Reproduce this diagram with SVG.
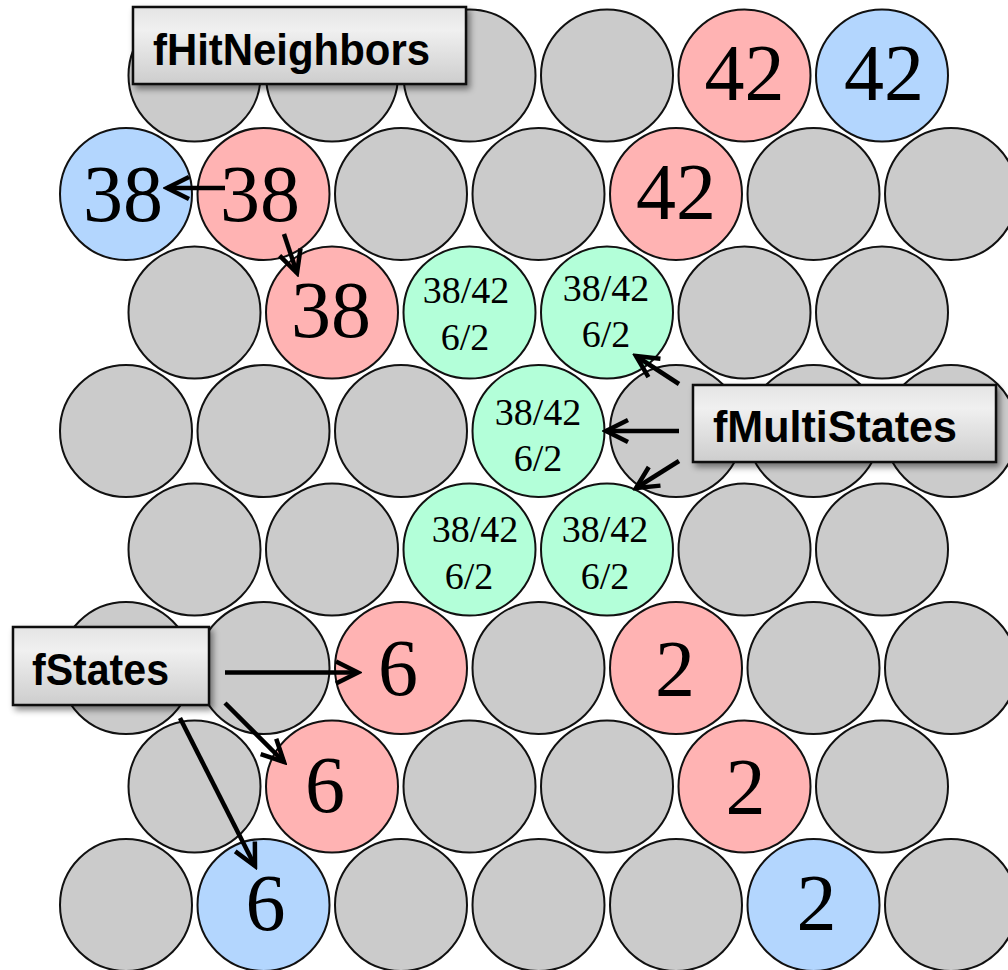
<svg xmlns="http://www.w3.org/2000/svg" width="1008" height="970" viewBox="0 0 1008 970">
  <style>
    .cell { stroke: #111; stroke-width: 2; }
    .g { fill: #cbcbcb; }
    .p { fill: #ffb3b3; }
    .b { fill: #b3d6fe; }
    .m { fill: #b3ffd9; }
    .big { font-family: "Liberation Serif", serif; font-size: 80px; text-anchor: middle; fill: #000; }
    .small { font-family: "Liberation Serif", serif; font-size: 38px; text-anchor: middle; fill: #000; }
    .box { fill: url(#boxGrad); stroke: #111; stroke-width: 2.5; filter: url(#shadow); }
    .lbl { font-family: "Liberation Sans", Arial, sans-serif; font-weight: bold; font-size: 44px; fill: #000; }
    .arrow { fill: none; stroke: #000; stroke-width: 4.5; marker-end: url(#chev); }
  </style>
  <defs>
    <linearGradient id="boxGrad" x1="0" y1="0" x2="0" y2="1">
      <stop offset="0" stop-color="#e4e4e4"/>
      <stop offset="0.3" stop-color="#f0f0f0"/>
      <stop offset="1" stop-color="#cdcdcd"/>
    </linearGradient>
    <filter id="shadow" x="-10%" y="-20%" width="130%" height="150%">
      <feDropShadow dx="3" dy="4" stdDeviation="3" flood-color="#000" flood-opacity="0.45"/>
    </filter>
    <marker id="chev" markerUnits="userSpaceOnUse" viewBox="-28 -16 32 32" markerWidth="32" markerHeight="32" refX="0" refY="0" orient="auto">
      <path d="M-22,-11 L0,0 L-22,11" fill="none" stroke="#000" stroke-width="4.5"/>
    </marker>
  </defs>

  <!-- row 0 -->
  <g id="n0-0"><circle class="cell g" cx="194.5" cy="75.5" r="66"/></g>
  <g id="n0-1"><circle class="cell g" cx="332" cy="75.5" r="66"/></g>
  <g id="n0-2"><circle class="cell g" cx="469.5" cy="75.5" r="66"/></g>
  <g id="n0-3"><circle class="cell g" cx="607" cy="75.5" r="66"/></g>
  <g id="n0-4"><circle class="cell p" cx="744.5" cy="75.5" r="66"/><text class="big" x="744.5" y="100">42</text></g>
  <g id="n0-5"><circle class="cell b" cx="882" cy="75.5" r="66"/><text class="big" x="884" y="100">42</text></g>

  <!-- row 1 -->
  <g id="n1-0"><circle class="cell b" cx="126" cy="194" r="66"/><text class="big" x="123" y="221">38</text></g>
  <g id="n1-1"><circle class="cell p" cx="263.5" cy="194" r="66"/><text class="big" x="260" y="221">38</text></g>
  <g id="n1-2"><circle class="cell g" cx="401" cy="194" r="66"/></g>
  <g id="n1-3"><circle class="cell g" cx="538.5" cy="194" r="66"/></g>
  <g id="n1-4"><circle class="cell p" cx="676" cy="194" r="66"/><text class="big" x="676" y="219">42</text></g>
  <g id="n1-5"><circle class="cell g" cx="813.5" cy="194" r="66"/></g>
  <g id="n1-6"><circle class="cell g" cx="951" cy="194" r="66"/></g>

  <!-- row 2 -->
  <g id="n2-0"><circle class="cell g" cx="194.5" cy="312.5" r="66"/></g>
  <g id="n2-1"><circle class="cell p" cx="332" cy="312.5" r="66"/><text class="big" x="331" y="337">38</text></g>
  <g id="n2-2"><circle class="cell m" cx="469.5" cy="312.5" r="66"/><text class="small" x="466" y="303">38/42</text><text class="small" x="465" y="350">6/2</text></g>
  <g id="n2-3"><circle class="cell m" cx="607" cy="312.5" r="66"/><text class="small" x="606" y="301">38/42</text><text class="small" x="606" y="347">6/2</text></g>
  <g id="n2-4"><circle class="cell g" cx="744.5" cy="312.5" r="66"/></g>
  <g id="n2-5"><circle class="cell g" cx="882" cy="312.5" r="66"/></g>

  <!-- row 3 -->
  <g id="n3-0"><circle class="cell g" cx="126" cy="431" r="66"/></g>
  <g id="n3-1"><circle class="cell g" cx="263.5" cy="431" r="66"/></g>
  <g id="n3-2"><circle class="cell g" cx="401" cy="431" r="66"/></g>
  <g id="n3-3"><circle class="cell m" cx="538.5" cy="431" r="66"/><text class="small" x="538" y="425">38/42</text><text class="small" x="538" y="471">6/2</text></g>
  <g id="n3-4"><circle class="cell g" cx="676" cy="431" r="66"/></g>
  <g id="n3-5"><circle class="cell g" cx="813.5" cy="431" r="66"/></g>
  <g id="n3-6"><circle class="cell g" cx="951" cy="431" r="66"/></g>

  <!-- row 4 -->
  <g id="n4-0"><circle class="cell g" cx="194.5" cy="549.5" r="66"/></g>
  <g id="n4-1"><circle class="cell g" cx="332" cy="549.5" r="66"/></g>
  <g id="n4-2"><circle class="cell m" cx="469.5" cy="549.5" r="66"/><text class="small" x="475" y="542">38/42</text><text class="small" x="469" y="589">6/2</text></g>
  <g id="n4-3"><circle class="cell m" cx="607" cy="549.5" r="66"/><text class="small" x="605" y="542">38/42</text><text class="small" x="605" y="589">6/2</text></g>
  <g id="n4-4"><circle class="cell g" cx="744.5" cy="549.5" r="66"/></g>
  <g id="n4-5"><circle class="cell g" cx="882" cy="549.5" r="66"/></g>

  <!-- row 5 -->
  <g id="n5-0"><circle class="cell g" cx="126" cy="668" r="66"/></g>
  <g id="n5-1"><circle class="cell g" cx="263.5" cy="668" r="66"/></g>
  <g id="n5-2"><circle class="cell p" cx="401" cy="668" r="66"/><text class="big" x="398" y="695">6</text></g>
  <g id="n5-3"><circle class="cell g" cx="538.5" cy="668" r="66"/></g>
  <g id="n5-4"><circle class="cell p" cx="676" cy="668" r="66"/><text class="big" x="675" y="696">2</text></g>
  <g id="n5-5"><circle class="cell g" cx="813.5" cy="668" r="66"/></g>
  <g id="n5-6"><circle class="cell g" cx="951" cy="668" r="66"/></g>

  <!-- row 6 -->
  <g id="n6-0"><circle class="cell g" cx="194.5" cy="786.5" r="66"/></g>
  <g id="n6-1"><circle class="cell p" cx="332" cy="786.5" r="66"/><text class="big" x="325" y="812">6</text></g>
  <g id="n6-2"><circle class="cell g" cx="469.5" cy="786.5" r="66"/></g>
  <g id="n6-3"><circle class="cell g" cx="607" cy="786.5" r="66"/></g>
  <g id="n6-4"><circle class="cell p" cx="744.5" cy="786.5" r="66"/><text class="big" x="745.5" y="814">2</text></g>
  <g id="n6-5"><circle class="cell g" cx="882" cy="786.5" r="66"/></g>

  <!-- row 7 -->
  <g id="n7-0"><circle class="cell g" cx="126" cy="905" r="66"/></g>
  <g id="n7-1"><circle class="cell b" cx="263.5" cy="905" r="66"/><text class="big" x="265.5" y="930">6</text></g>
  <g id="n7-2"><circle class="cell g" cx="401" cy="905" r="66"/></g>
  <g id="n7-3"><circle class="cell g" cx="538.5" cy="905" r="66"/></g>
  <g id="n7-4"><circle class="cell g" cx="676" cy="905" r="66"/></g>
  <g id="n7-5"><circle class="cell b" cx="813.5" cy="905" r="66"/><text class="big" x="816.5" y="930">2</text></g>
  <g id="n7-6"><circle class="cell g" cx="951" cy="905" r="66"/></g>

  <!-- callout labels -->
  <g id="label-hit">
    <rect class="box" x="133" y="7" width="333" height="77"/>
    <text class="lbl" x="153" y="65" textLength="277" lengthAdjust="spacingAndGlyphs">fHitNeighbors</text>
  </g>
  <g id="label-multi">
    <rect class="box" x="693" y="385" width="303" height="77"/>
    <text class="lbl" x="713" y="442" textLength="244" lengthAdjust="spacingAndGlyphs">fMultiStates</text>
  </g>
  <g id="label-states">
    <rect class="box" x="13" y="627" width="196" height="78"/>
    <text class="lbl" x="32" y="685" textLength="137" lengthAdjust="spacingAndGlyphs">fStates</text>
  </g>

  <!-- connectors -->
  <g id="connectors">
    <line class="arrow" x1="225" y1="188" x2="167" y2="188"/>
    <line class="arrow" x1="284" y1="234" x2="297" y2="273"/>
    <line class="arrow" x1="679" y1="384" x2="636" y2="356"/>
    <line class="arrow" x1="679" y1="431" x2="606" y2="431"/>
    <line class="arrow" x1="679" y1="461" x2="636" y2="488"/>
    <line class="arrow" x1="225" y1="672.5" x2="358" y2="672.5"/>
    <line class="arrow" x1="225" y1="703" x2="284" y2="762"/>
    <line class="arrow" x1="180" y1="718" x2="255" y2="866"/>
  </g>
</svg>
